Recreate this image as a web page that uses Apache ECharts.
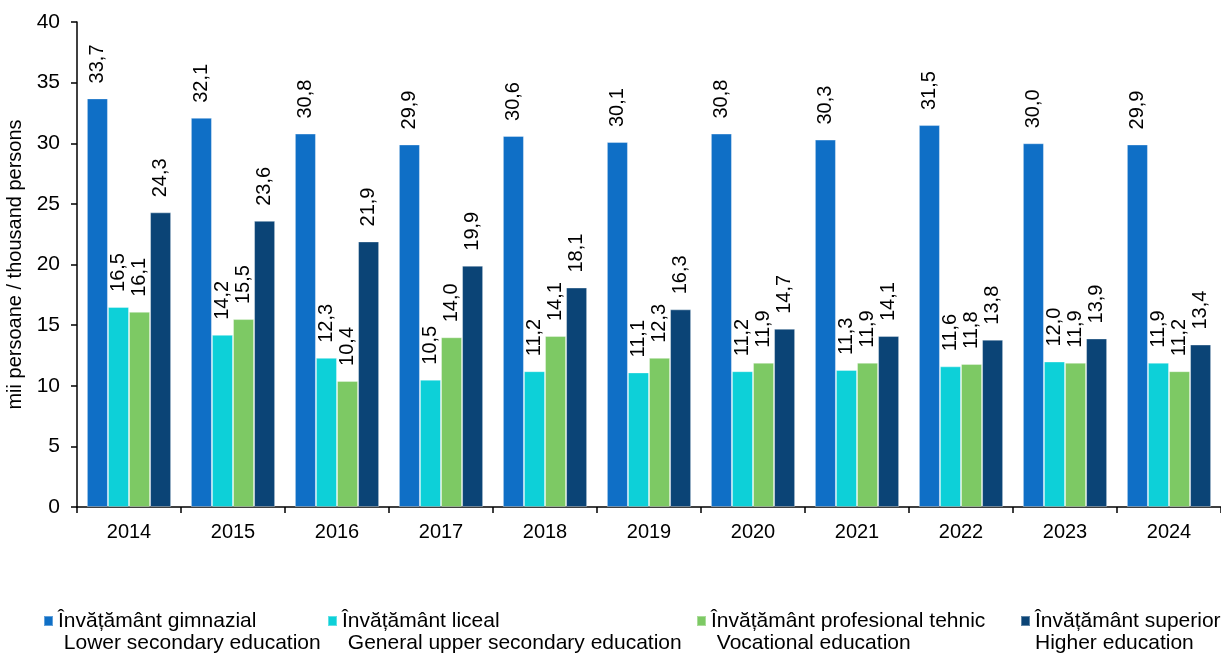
<!DOCTYPE html>
<html>
<head>
<meta charset="utf-8">
<script src="https://cdn.jsdelivr.net/npm/echarts@6/dist/echarts.min.js"></script>
<style>
html,body{margin:0;padding:0;background:#fff;}
#chart{width:1221px;height:654px;}
</style>
</head>
<body>
<div id="chart"></div>
<script>
const years = ['2014','2015','2016','2017','2018','2019','2020','2021','2022','2023','2024'];
const gimnazial = [33.7, 32.1, 30.8, 29.9, 30.6, 30.1, 30.8, 30.3, 31.5, 30.0, 29.9];
const liceal = [16.5, 14.2, 12.3, 10.5, 11.2, 11.1, 11.2, 11.3, 11.6, 12.0, 11.9];
const profesional = [16.1, 15.5, 10.4, 14.0, 14.1, 12.3, 11.9, 11.9, 11.8, 11.9, 11.2];
const superior = [24.3, 23.6, 21.9, 19.9, 18.1, 16.3, 14.7, 14.1, 13.8, 13.9, 13.4];
const seriesNames = ['Învățământ gimnazial', 'Învățământ liceal', 'Învățământ profesional tehnic', 'Învățământ superior'];
const seriesNamesEn = [' Lower secondary education', ' General upper secondary education', ' Vocational education', 'Higher education'];
const yTicks = [0, 5, 10, 15, 20, 25, 30, 35, 40];
const yAxisName = 'mii persoane / thousand persons';

const colors = ['#0F6FC6', '#0DD0D8', '#7DC964', '#0B4476'];
const FONT = '"Liberation Sans", Arial, sans-serif';
const dataSets = [gimnazial, liceal, profesional, superior];
const legendLeft = [43, 327, 696, 1020];

const chart = echarts.init(document.getElementById('chart'), null, {renderer: 'canvas'});

const series = dataSets.map((d, i) => ({
  name: seriesNames[i],
  type: 'bar',
  data: d,
  barGap: '0%',
  barCategoryGap: '19%',
  itemStyle: {color: colors[i], borderColor: 'rgba(255,255,255,0.35)', borderWidth: 1},
  label: {
    show: true,
    position: 'top',
    rotate: 90,
    align: 'left',
    verticalAlign: 'middle',
    distance: 15,
    color: '#000',
    fontSize: 20,
    fontFamily: FONT,
    formatter: p => p.value.toFixed(1).replace('.', ',')
  }
}));

const legends = seriesNames.map((n, i) => ({
  data: [n],
  left: legendLeft[i],
  top: 588,
  padding: 0,
  itemWidth: 9,
  itemHeight: 10,
  icon: 'rect',
  selectedMode: false,
  textStyle: {
    fontSize: 21,
    fontFamily: FONT,
    color: '#000',
    lineHeight: 22
  },
  formatter: name => ' \n' + name + '\n' + seriesNamesEn[i]
}));

chart.setOption({
  animation: false,
  textStyle: {fontFamily: FONT},
  legend: legends,
  grid: {left: 77, right: 0, top: 22, bottom: 147, containLabel: false, outerBoundsMode: 'none'},
  xAxis: {
    type: 'category',
    data: years,
    axisLine: {show: true, lineStyle: {color: '#000', width: 1.5}},
    axisTick: {show: true, alignWithLabel: false, length: 6, lineStyle: {color: '#000', width: 1.5}},
    axisLabel: {color: '#000', fontSize: 20, fontFamily: FONT, margin: 15}
  },
  yAxis: {
    type: 'value',
    min: yTicks[0],
    max: yTicks[yTicks.length - 1],
    interval: yTicks[1] - yTicks[0],
    name: yAxisName,
    nameLocation: 'middle',
    nameGap: 49,
    nameTextStyle: {color: '#000', fontSize: 20, fontFamily: FONT},
    axisLine: {show: true, lineStyle: {color: '#000', width: 1.5}},
    axisTick: {show: true, length: 6, lineStyle: {color: '#000', width: 1.5}},
    axisLabel: {color: '#000', fontSize: 21, fontFamily: FONT, margin: 17},
    splitLine: {show: false}
  },
  series: series
});
</script>
</body>
</html>
